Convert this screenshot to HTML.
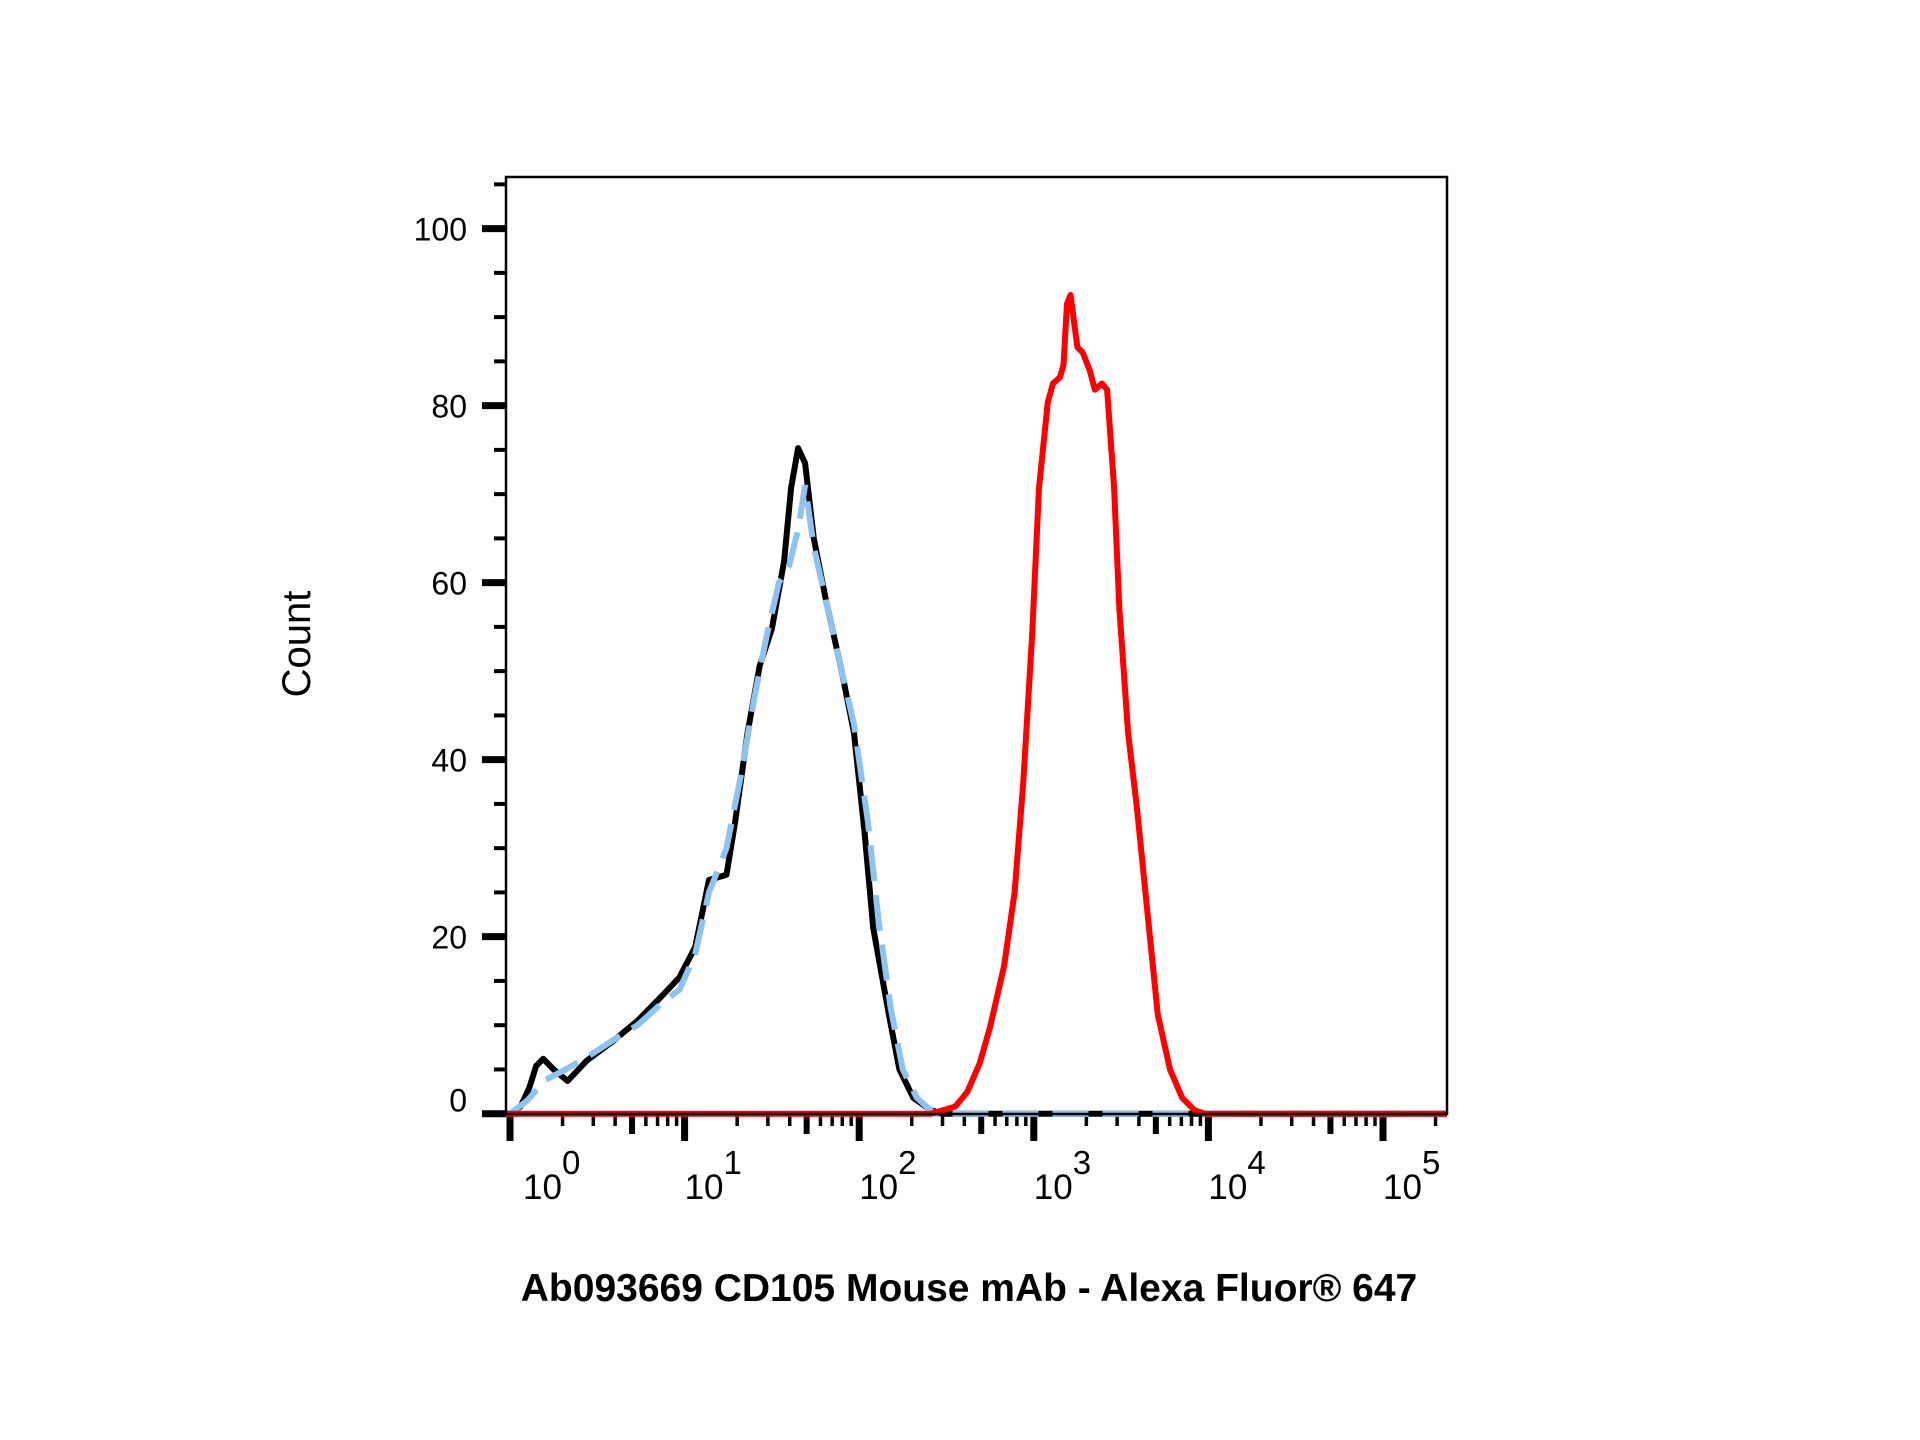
<!DOCTYPE html>
<html><head><meta charset="utf-8"><style>
html,body{margin:0;padding:0;background:#fff;}
svg{display:block;font-family:"Liberation Sans",Arial,sans-serif;}
</style></head><body>
<svg id="chart" width="1920" height="1440" viewBox="0 0 1920 1440" xmlns="http://www.w3.org/2000/svg">
<rect x="0" y="0" width="1920" height="1440" fill="#fff"/>
<g id="ticks"></g>
<g id="series"></g>
<rect x="506" y="177" width="941" height="937" fill="none" stroke="#000" stroke-width="2.5"/>
<g id="labels"></g>
<text x="296" y="658" transform="rotate(-90 296 644)" text-anchor="middle" font-size="40">Count</text>
<text x="969" y="1301" text-anchor="middle" font-size="39" font-weight="bold">Ab093669 CD105 Mouse mAb - Alexa Fluor® 647</text>
</svg>
<script>
const blackD=[0,0.06,0.11,0.15,0.19,0.25,0.33,0.44,0.59,0.73,0.87,0.97,1.06,1.14,1.24,1.29,1.36,1.43,1.5,1.57,1.61,1.65,1.69,1.74,1.81,1.9,1.97,2.03,2.08,2.17,2.23,2.31,2.41,2.48,5.4];
const blackV=[0,0.8,2.9,5.4,6.2,5,3.7,6,8.2,10.5,13.3,15.4,18.8,26.4,27,33,43,50.6,54.8,62.4,70.7,75.2,73.5,65,58,50,43,32,21,11.2,5,1.8,0.4,0,0];
const blueD=[0,0.1,0.2,0.3,0.45,0.59,0.73,0.87,0.97,1.06,1.14,1.24,1.32,1.4,1.47,1.54,1.6,1.65,1.69,1.74,1.81,1.9,1.97,2.05,2.11,2.18,2.25,2.33,2.43,5.4];
const blueV=[0,1.5,3.8,4.8,6.5,8.3,10,12.5,14,18,25,30,38,47,54,60,62,66,71,64,58,50,44,33,22,12,5,1.8,0,0];
const redD=[-0.02,2.41,2.48,2.55,2.62,2.69,2.75,2.83,2.89,2.94,2.99,3.03,3.08,3.11,3.15,3.17,3.19,3.21,3.25,3.28,3.32,3.35,3.39,3.42,3.46,3.49,3.54,3.59,3.66,3.71,3.78,3.85,3.92,3.98,5.4];
const redV=[0,0,0.4,0.8,2.5,5.7,9.8,16.7,25,37.5,54,70.7,80.4,82.5,83.2,84.6,91.5,92.5,86.6,86,84,81.8,82.5,81.8,70.7,57,43,34.7,21,11.2,5,1.8,0.4,0,0];
const yTickVals=[0,20,40,60,80,100];
const yTickLabels=["0","20","40","60","80","100"];
const xDecades=[0,1,2,3,4,5];
const xExpLabels=["0","1","2","3","4","5"];

const NS="http://www.w3.org/2000/svg";
function X(d){return Math.min(1447,510+174.6*d);}
function Y(v){return 1113.7-8.851*v;}
function mk(tag,attrs,parent){const e=document.createElementNS(NS,tag);for(const k in attrs)e.setAttribute(k,attrs[k]);parent.appendChild(e);return e;}
const ticks=document.getElementById('ticks'),labels=document.getElementById('labels'),series=document.getElementById('series');

for(let v=5;v<=105;v+=5){
  if(v%20===0) continue;
  const t=mk('line',{x1:494,x2:506,y1:Y(v),y2:Y(v),stroke:'#000','stroke-width':4},ticks);
  
  
}
yTickVals.forEach((v,i)=>{
  const t=mk('line',{x1:482,x2:506,y1:Y(v),y2:Y(v),stroke:'#000','stroke-width':7},ticks);
  
  
  const ly=v===0?Y(v)-2:Y(v)+12;
  const l=mk('text',{x:467,y:ly,'text-anchor':'end','font-size':32},labels);
  l.textContent=yTickLabels[i];
  
  
});
xDecades.forEach((d,i)=>{
  const t=mk('line',{x1:X(d),x2:X(d),y1:1113,y2:1141,stroke:'#000','stroke-width':7},ticks);
  
  
  const lx=X(d)+(i===0?13:0);
  const l=mk('text',{x:lx,y:1199,'font-size':35},labels);
  l.textContent='10';
  
  
  const s=mk('tspan',{dy:-25,'font-size':33},l);
  s.textContent=xExpLabels[i];
  for(let m=2;m<=9;m++){
    const xd=d+Math.log10(m);
    if(510+174.6*xd>1446) continue;
    const t2=mk('line',{x1:X(xd),x2:X(xd),y1:1113,y2:m===5?1134:1126,stroke:'#000','stroke-width':m===5?6:3.5},ticks);
    
    
  }
});
{const t=mk('line',{x1:482,x2:1447,y1:Y(0),y2:Y(0),stroke:'#000','stroke-width':5},ticks);

}

function pts(D,V){return D.map((d,i)=>X(d).toFixed(1)+','+Y(V[i]).toFixed(1)).join(' ');}
const bl=mk('polyline',{points:pts(blackD,blackV),fill:'none',stroke:'#000','stroke-width':6,'stroke-linejoin':'round'},series);


const bu=mk('polyline',{points:pts(blueD,blueV),fill:'none',stroke:'#8cc3f0','stroke-width':6,'stroke-dasharray':'36 14'},series);


const rd=mk('polyline',{points:pts(redD,redV),fill:'none',stroke:'#ff0000','stroke-width':6,'stroke-linejoin':'round'},series);


</script>
</body></html>
